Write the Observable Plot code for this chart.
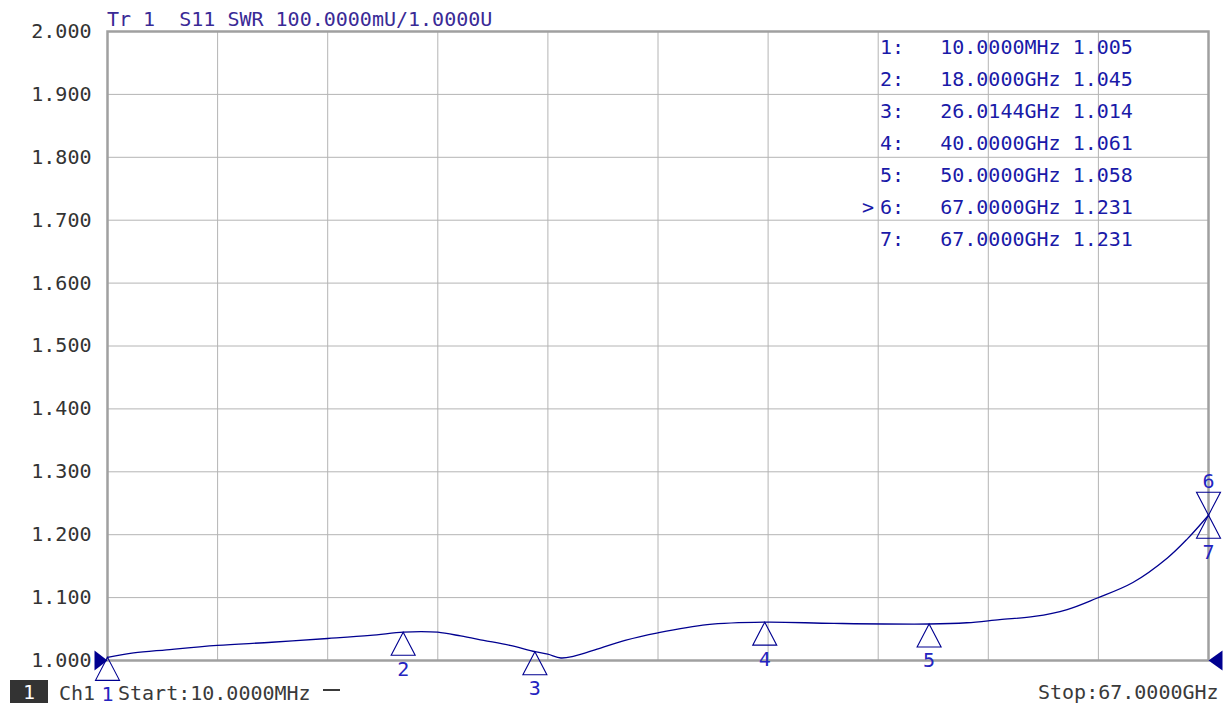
<!DOCTYPE html>
<html><head><meta charset="utf-8">
<script src="https://cdn.jsdelivr.net/npm/d3@7"></script>
<script src="https://cdn.jsdelivr.net/npm/@observablehq/plot@0.6"></script>
<style>
html,body{margin:0;padding:0;background:#fff;}
#wrap{position:relative;width:1232px;height:713px;overflow:hidden;background:#fff;}
#wrap svg{position:absolute;left:0;top:0;}
.t{position:absolute;font-family:"DejaVu Sans Mono",monospace;font-size:20px;line-height:24px;white-space:pre;}
</style></head><body><div id="wrap"></div>
<script>
// ---- data ----
const freqGHz = [0.01, 1.6, 3.6, 6.7, 10.0, 13.4, 16.0, 18.0, 19.1, 20.1, 21.5, 22.9, 24.5, 26.0144, 26.8, 27.6, 28.4, 29.8, 31.5, 33.5, 36.5, 40.0, 44.2, 50.0, 52.3, 54.3, 56.4, 58.4, 60.2, 62.4, 64.5, 65.7, 67.0];
const swr = [1.005, 1.012, 1.017, 1.024, 1.029, 1.035, 1.040, 1.045, 1.046, 1.045, 1.039, 1.032, 1.024, 1.014, 1.010, 1.004, 1.007, 1.018, 1.032, 1.044, 1.057, 1.061, 1.059, 1.058, 1.060, 1.065, 1.070, 1.081, 1.099, 1.124, 1.163, 1.193, 1.231];
const markerIds = ["1", "2", "3", "4", "5", "6", "7"];
const markerFreq = [0.01, 18, 26.0144, 40, 50, 67, 67];
const markerSwr = [1.005, 1.045, 1.014, 1.061, 1.058, 1.231, 1.231];
const markerFreqLabels = ["10.0000MHz", "18.0000GHz", "26.0144GHz", "40.0000GHz", "50.0000GHz", "67.0000GHz", "67.0000GHz"];
const markerValueLabels = ["1.005", "1.045", "1.014", "1.061", "1.058", "1.231", "1.231"];
const markerDir = ["up", "up", "up", "up", "up", "down", "up"];
const activeMarker = "6";
const yTicks = [1.0, 1.1, 1.2, 1.3, 1.4, 1.5, 1.6, 1.7, 1.8, 1.9, 2.0];
const xStart = 0.01, xStop = 67.0;
const refLevel = 1.0;
const titleText = "Tr 1  S11 SWR 100.0000mU/1.0000U";
const startText = "Start:10.0000MHz";
const stopText = "Stop:67.0000GHz";
const channelText = "Ch1";

// ---- build ----
const trace = freqGHz.map((f, i) => ({f, s: swr[i]}));
const markers = markerIds.map((id, i) => ({id, f: markerFreq[i], s: markerSwr[i], dir: markerDir[i]}));
const xGrid = d3.range(11).map(i => xStart + i * (xStop - xStart) / 10);
const FONT = '"DejaVu Sans Mono", monospace';
const NAVY = "#000090";

const triUp = {draw(c) { c.moveTo(0, 0); c.lineTo(-12, 23); c.lineTo(12, 23); c.closePath(); }};
const triDown = {draw(c) { c.moveTo(0, 0); c.lineTo(-12, -23); c.lineTo(12, -23); c.closePath(); }};
const refRight = {draw(c) { c.moveTo(0, 0); c.lineTo(-13, -10); c.lineTo(-13, 10); c.closePath(); }};
const refLeft = {draw(c) { c.moveTo(0, 0); c.lineTo(14, -10); c.lineTo(14, 10); c.closePath(); }};

const chart = Plot.plot({
  width: 1232, height: 713,
  marginLeft: 107, marginRight: 24, marginTop: 31, marginBottom: 53,
  style: {fontFamily: FONT, fontSize: "20px", background: "#fff", overflow: "visible"},
  x: {domain: [xStart, xStop], axis: null},
  y: {domain: [1, 2], axis: null},
  marks: [
    Plot.ruleX(xGrid, {stroke: "#b4b4b4", strokeWidth: 1}),
    Plot.ruleY(yTicks, {stroke: "#b4b4b4", strokeWidth: 1}),
    Plot.frame({stroke: "#a0a0a0", strokeWidth: 2.5}),
    Plot.axisY({ticks: yTicks, tickFormat: d3.format(".3f"), tickSize: 0, tickPadding: 16, fontSize: 20, fill: "#333", stroke: null, label: null}),
    Plot.line(trace, {x: "f", y: "s", stroke: NAVY, strokeWidth: 1.3, curve: "catmull-rom"}),
    Plot.dot(markers.filter(d => d.dir === "up"), {x: "f", y: "s", symbol: triUp, r: 5, stroke: NAVY, strokeWidth: 1.1, fill: "none"}),
    Plot.dot(markers.filter(d => d.dir === "down"), {x: "f", y: "s", symbol: triDown, r: 5, stroke: NAVY, strokeWidth: 1.1, fill: "none"}),
    Plot.text(markers.filter(d => d.dir === "up"), {x: "f", y: "s", text: "id", dy: 37, fill: "#2424c0", fontSize: 20}),
    Plot.text(markers.filter(d => d.dir === "down"), {x: "f", y: "s", text: "id", dy: -34, fill: "#2424c0", fontSize: 20}),
    Plot.dot([refLevel], {x: () => xStart, y: d => d, symbol: refRight, r: 5, fill: NAVY, stroke: "none"}),
    Plot.dot([refLevel], {x: () => xStop, y: d => d, symbol: refLeft, r: 5, fill: NAVY, stroke: "none"})
  ]
});
const wrap = document.getElementById("wrap");
wrap.appendChild(chart);

function addText(txt, left, top, color, extra) {
  const d = document.createElement("div");
  d.className = "t";
  d.textContent = txt;
  d.style.left = left + "px";
  d.style.top = top + "px";
  d.style.color = color;
  if (extra) Object.assign(d.style, extra);
  wrap.appendChild(d);
  return d;
}
// title
addText(titleText, 107, 7, "#3a2a96");
// marker table
const rows = markerIds.map((id, i) => `${id}:   ${markerFreqLabels[i]} ${markerValueLabels[i]}`).join("\n");
addText(rows, 880, 31, "#1a1aa8", {lineHeight: "32px"});
const ai = markerIds.indexOf(activeMarker);
addText(">", 862, 31 + 32 * ai, "#1a1aa8", {lineHeight: "32px"});
// status bar
const box = document.createElement("div");
Object.assign(box.style, {position: "absolute", left: "10px", top: "680px", width: "38px", height: "23px", background: "#333"});
wrap.appendChild(box);
addText("1", 23, 680, "#fff");
addText(channelText, 59, 681, "#3a3a3a");
addText(startText, 118, 681, "#3a3a3a");
const dash = document.createElement("div");
Object.assign(dash.style, {position: "absolute", left: "323px", top: "689px", width: "17px", height: "1.5px", background: "#3a3a3a"});
wrap.appendChild(dash);
addText(stopText, 1038, 680, "#3a3a3a");
</script></body></html>
